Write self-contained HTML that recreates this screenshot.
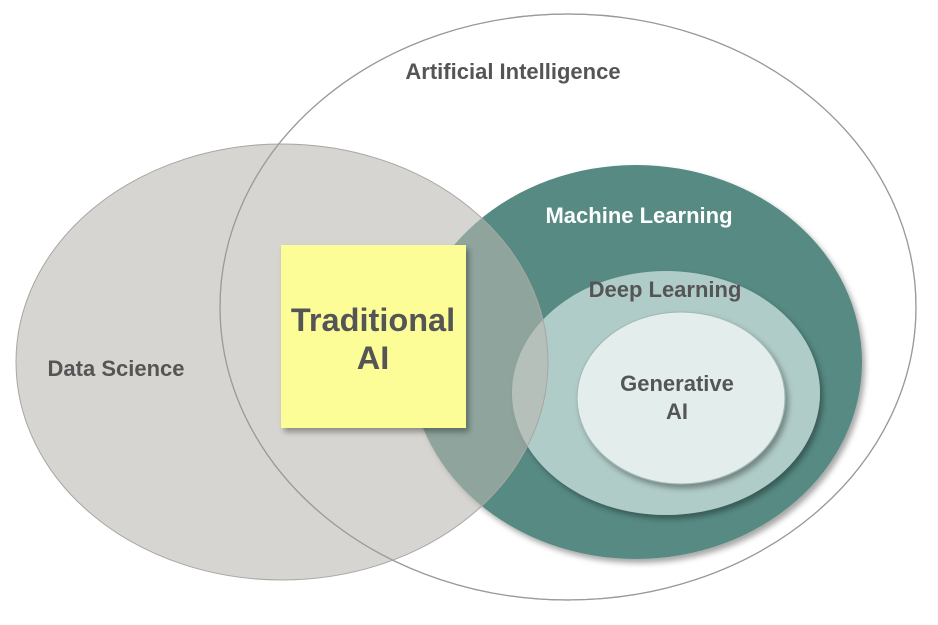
<!DOCTYPE html>
<html><head><meta charset="utf-8"><style>
html,body{margin:0;padding:0;background:#fff;}
svg text{font-family:"Liberation Sans",Arial,sans-serif;font-weight:bold;}
</style></head><body>
<svg width="938" height="620" viewBox="0 0 938 620" xmlns="http://www.w3.org/2000/svg">
<defs>
<filter id="sh" x="-10%" y="-10%" width="130%" height="130%">
<feDropShadow dx="3" dy="4" stdDeviation="3" flood-color="#000" flood-opacity="0.35"/>
</filter>
</defs>
<rect width="938" height="620" fill="#fff"/>
<ellipse cx="568" cy="307" rx="348" ry="293" fill="#fff" stroke="#9a9a9a" stroke-width="1.2"/>
<ellipse cx="636" cy="362" rx="226" ry="197" fill="#578a83" filter="url(#sh)"/>
<ellipse cx="666" cy="393" rx="154" ry="122" fill="#b0ccc8" filter="url(#sh)"/>
<ellipse cx="681" cy="398" rx="104" ry="86" fill="#e3edeb" filter="url(#sh)" stroke="#9fb7b3" stroke-width="1"/>
<ellipse cx="282" cy="362" rx="266" ry="218" fill="rgba(185,182,176,0.58)" stroke="#a8a6a2" stroke-width="1"/>
<ellipse cx="568" cy="307" rx="348" ry="293" fill="none" stroke="#9a9a9a" stroke-width="1.2"/>
<rect x="281" y="245" width="185" height="183" fill="#fdfd98" filter="url(#sh)"/>
<text x="513" y="79" font-size="22" fill="#555" text-anchor="middle">Artificial Intelligence</text>
<text x="639" y="223" font-size="22" fill="#fff" text-anchor="middle">Machine Learning</text>
<text x="665" y="297" font-size="22" fill="#555" text-anchor="middle">Deep Learning</text>
<text x="677" y="391" font-size="22" fill="#555" text-anchor="middle">Generative</text>
<text x="677" y="419" font-size="22" fill="#555" text-anchor="middle">AI</text>
<text x="116" y="376" font-size="22" fill="#555" text-anchor="middle">Data Science</text>
<text x="373" y="331" font-size="32.5" fill="#555" text-anchor="middle">Traditional</text>
<text x="373" y="369" font-size="32.5" fill="#555" text-anchor="middle">AI</text>
</svg>
</body></html>
